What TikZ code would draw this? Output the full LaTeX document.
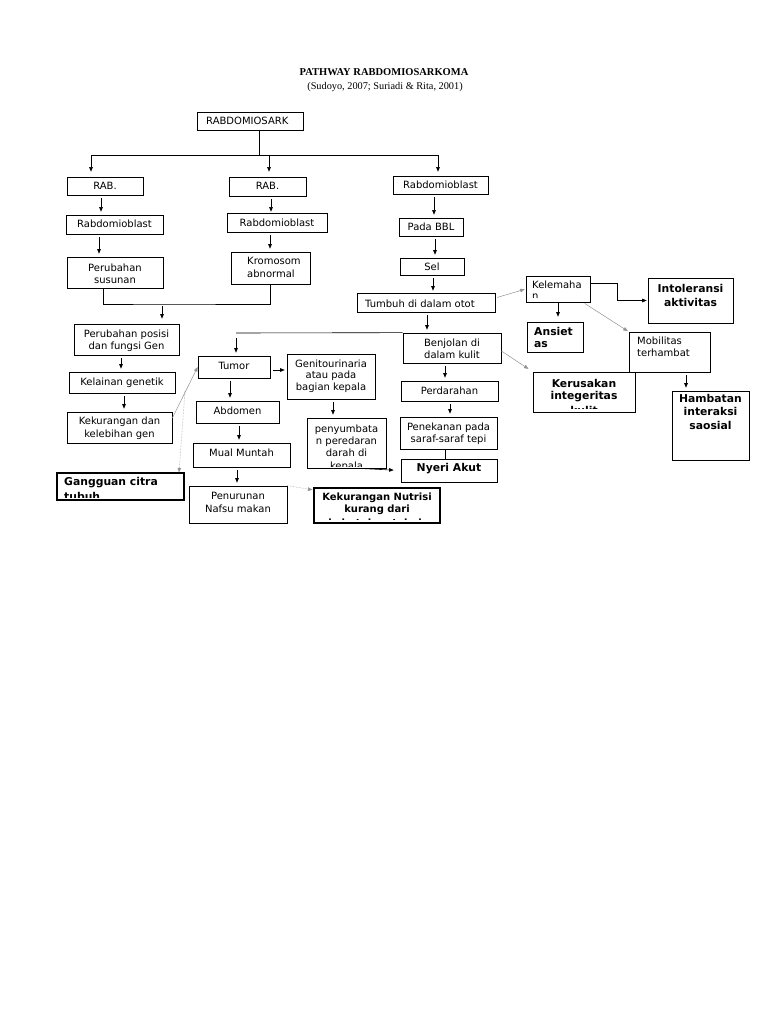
\documentclass[tikz,border=0pt]{standalone}
\usepackage{fontspec}
\setmainfont{Liberation Serif}
\newfontfamily\dv{DejaVu Sans}
\usetikzlibrary{arrows.meta,fit}
\newcommand\nf{\dv\fontsize{10}{12}\selectfont}
\newcommand\bfx{\dv\fontsize{10.8}{13}\selectfont\bfseries}
\newcommand\bfs{\dv\fontsize{10}{12}\selectfont\bfseries}
% box: [style] name, corner, corner
\newcommand\B[4][]{\node[box,#1,fit={#3 #4}] (#2) {};}
% text line, centred on x, baseline y
\newcommand\Tx[5][tx]{\node[#1,anchor=base] (#2) at (#3,#4) {#5};}
% text line, left end at x, baseline y
\newcommand\Tl[5][tx]{\node[#1,anchor=base west] (#2) at (#3,#4) {#5};}
\begin{document}
\begin{tikzpicture}[x=1pt,y=-1pt,
  box/.style={draw=black,line width=0.7pt,inner sep=0pt,rectangle},
  thick box/.style={line width=1.2pt},
  tx/.style={inner sep=0pt,draw=none,font=\nf},
  btx/.style={inner sep=0pt,draw=none,font=\bfx},
  bts/.style={inner sep=0pt,draw=none,font=\bfs},
  ln/.style={line width=0.6pt,draw=black},
  ar/.style={ln,-{Triangle[length=4.5pt,width=3.6pt]}},
  stub/.style={ar,shorten <=3pt,shorten >=3pt},
  gr/.style={line width=0.5pt,draw=gray!85,-{Triangle[length=4.5pt,width=3.6pt]}},
  dt/.style={gr,densely dotted}]
\path[use as bounding box,fill=white] (0,0) rectangle (768,1024);

\node[font=\bfseries\fontsize{10.5}{12}\selectfont,inner sep=0pt] (title) at (384,72.5) {PATHWAY RABDOMIOSARKOMA};
\node[font=\fontsize{10.3}{12}\selectfont,inner sep=0pt] (subtitle) at (385,87.5) {(Sudoyo, 2007; Suriadi \& Rita, 2001)};

% ---------- boxes ----------
\B{root}{(197,112)}{(303,130)}
\B{rabL}{(67,177)}{(143,195)}
\B{rabM}{(229,177)}{(306,196)}
\B{rbR}{(393,176)}{(488,194)}
\B{rbL}{(66,215)}{(163,234)}
\B{rbM}{(227,213)}{(327,232)}
\B{perL}{(67,257)}{(163,288)}
\B{krom}{(231,252)}{(310,284)}
\B{pada}{(399,218)}{(463,236)}
\B{sel}{(400,258)}{(464,275)}
\B{tumbuh}{(357,293)}{(495,312)}
\B{perP}{(74,324)}{(179,355)}
\B{kel}{(69,372)}{(175,393)}
\B{kek}{(67,412)}{(172,443)}
\B{tumor}{(198,356)}{(270,378)}
\B{abd}{(196,401)}{(279,423)}
\B{mual}{(193,443)}{(290,467)}
\B{pen}{(189,486)}{(287,523)}
\B{geni}{(287,354)}{(375,399)}
\B{peny}{(307,418)}{(386,468)}
\B[thick box]{kekN}{(314,488)}{(440,523)}
\B{benj}{(403,333)}{(501,363)}
\B{perd}{(401,381)}{(498,401)}
\B{pene}{(400,417)}{(497,449)}
\B{nyeri}{(401,459)}{(497,482)}
\B{kelem}{(526,276)}{(590,302)}
\B{intol}{(648,278)}{(733,323)}
\B{ans}{(527,322)}{(583,352)}
\B{mob}{(629,332)}{(710,372)}
\B{keru}{(533,372)}{(635,412)}
\B{hamb}{(672,391)}{(749,460)}
\B[thick box]{gang}{(57,473)}{(184,500)}

% ---------- texts ----------
\Tl{rootT}{206}{124.5}{RABDOMIOSARK}
\Tx{rabLT}{105}{190}{RAB.}
\Tx{rabMT}{267.5}{190}{RAB.}
\Tx{rbRT}{440.5}{189}{Rabdomioblast}
\Tx{rbLT}{114.5}{228}{Rabdomioblast}
\Tx{rbMT}{277}{226}{Rabdomioblast}
\Tx{perLT1}{115}{271}{Perubahan}
\Tx{perLT2}{115}{283}{susunan}
\Tl{kromT1}{247}{264}{Kromosom}
\Tl{kromT2}{247}{277}{abnormal}
\Tx{padaT}{431}{231}{Pada BBL}
\Tx{selT}{432}{270}{Sel}
\Tl{tumbuhT}{365}{307.5}{Tumbuh di dalam otot}
\Tx{perPT1}{126.5}{337}{Perubahan posisi}
\Tx{perPT2}{126.5}{349}{dan fungsi Gen}
\Tx{kelT}{122}{385}{Kelainan genetik}
\Tx{kekT1}{119.5}{424}{Kekurangan dan}
\Tx{kekT2}{119.5}{437}{kelebihan gen}
\Tx{tumorT}{234}{369}{Tumor}
\Tx{abdT}{237.5}{414}{Abdomen}
\Tx{mualT}{241.5}{456}{Mual Muntah}
\Tx{penT1}{238}{499}{Penurunan}
\Tx{penT2}{238}{512}{Nafsu makan}
\Tx{geniT1}{331}{367}{Genitourinaria}
\Tx{geniT2}{331}{378.5}{atau pada}
\Tx{geniT3}{331}{390}{bagian kepala}
\begin{scope}
\clip (307,418) rectangle (386,466.5);
\Tx{penyT1}{346.5}{432.5}{penyumbata}
\Tx{penyT2}{346.5}{444.5}{n peredaran}
\Tx{penyT3}{346.5}{456.5}{darah di}
\Tx{penyT4}{346.5}{469}{kepala}
\end{scope}
\begin{scope}
\clip (314,488) rectangle (440,519.5);
\Tx[bts]{kekNT1}{377}{500.5}{Kekurangan Nutrisi}
\Tx[bts]{kekNT2}{377}{512.5}{kurang dari}
\Tx[bts]{kekNT3}{377}{526.5}{kebutuhan tubuh}
\end{scope}
\Tx{benjT1}{452}{346.5}{Benjolan di}
\Tx{benjT2}{452}{358}{dalam kulit}
\Tx{perdT}{449.5}{394}{Perdarahan}
\Tx{peneT1}{448.5}{430}{Penekanan pada}
\Tx{peneT2}{448.5}{442}{saraf-saraf tepi}
\Tx[btx]{nyeriT}{449}{471.5}{Nyeri Akut}
\begin{scope}
\clip (526,276) rectangle (590,297.5);
\Tl{kelemT1}{532}{288}{Kelemaha}
\Tl{kelemT2}{532}{299.5}{n}
\end{scope}
\Tx[btx]{intolT1}{690.5}{292}{Intoleransi}
\Tx[btx]{intolT2}{690.5}{306.5}{aktivitas}
\Tl[btx]{ansT1}{534}{335}{Ansiet}
\Tl[btx]{ansT2}{534}{347}{as}
\Tl{mobT1}{637}{344}{Mobilitas}
\Tl{mobT2}{637}{356.5}{terhambat}
\begin{scope}
\clip (533,372) rectangle (635,408.5);
\Tx[btx]{keruT1}{584}{387}{Kerusakan}
\Tx[btx]{keruT2}{584}{399}{integeritas}
\Tx[btx]{keruT3}{584}{414}{kulit}
\end{scope}
\Tx[btx]{hambT1}{710.5}{402}{Hambatan}
\Tx[btx]{hambT2}{710.5}{415}{interaksi}
\Tx[btx]{hambT3}{710.5}{429}{saosial}
\begin{scope}
\clip (57,473) rectangle (184,497.5);
\Tl[btx]{gangT1}{64}{485.5}{Gangguan citra}
\Tl[btx]{gangT2}{64}{500.5}{tubuh}
\end{scope}

% ---------- connectors ----------
\coordinate (barL) at (91,155);
\coordinate (barM) at (259,155);
\coordinate (barA) at (269,155);
\coordinate (barR) at (438,155);
\draw[ln] (root.south -| barM) -- (barM);
\draw[ln] (barL) -- (barR);
\draw[ar,shorten >=5pt] (barL) -- (barL |- rabL.north);
\draw[ar,shorten >=5pt] (barA) -- (barA |- rabM.north);
\draw[ar,shorten >=4pt] (barR) -- (barR |- rbR.north);

\draw[stub] (rabL.south -| 101,0) -- (rbL.north -| 101,0);
\draw[stub] (rbL.south -| 99,0) -- (perL.north -| 99,0);
\draw[stub,shorten >=1pt] (rabM.south -| 271,0) -- (rbM.north -| 271,0);
\draw[stub] (rbM.south -| 270,0) -- (krom.north -| 270,0);
\coordinate (jn) at (162,304);
\draw[ln] (perL.south -| 103,0) |- (jn) -| (krom.south -| 270,0);
\draw[ar,shorten <=2pt,shorten >=5pt] (jn) -- (jn |- perP.north);
\draw[stub] (perP.south -| 121,0) -- (kel.north -| 121,0);
\draw[stub] (kel.south -| 124,0) -- (kek.north -| 124,0);
\draw[gr] (kek.east |- 0,418) -- (tumor.west);
\coordinate (ds) at (185,391);
\draw[dt] (ds) -- (gang.north -| 179,0);

\coordinate (tl) at (236,333);
\draw[ln] (benj.north west) -- (tl);
\draw[ar,shorten <=5pt,shorten >=3pt] (tl) -- (tl |- tumor.north);
\draw[stub] (tumbuh.south -| 427,0) -- (benj.north -| 427,0);
\draw[stub] (tumor.south -| 230,0) -- (abd.north -| 230,0);
\draw[stub] (abd.south -| 239,0) -- (mual.north -| 239,0);
\draw[stub] (mual.south -| 237,0) -- (pen.north -| 237,0);
\draw[ar,shorten <=3pt,shorten >=2pt] (tumor.east |- 0,370) -- (geni.west |- 0,370);
\draw[stub] (geni.south -| 333,0) -- (peny.north -| 333,0);
\draw[ar,shorten >=7pt] (peny.south -| 358,0) -- (nyeri.west);
\draw[dt,shorten >=1pt] (pen.north east) -- (kekN.west |- 0,490);

\draw[stub] (benj.south -| 445,0) -- (perd.north -| 445,0);
\draw[stub] (perd.south -| 450,0) -- (pene.north -| 450,0);
\draw[ln] (pene.south -| 445,0) -- (nyeri.north -| 445,0);

\draw[stub] (rbR.south -| 434,0) -- (pada.north -| 434,0);
\draw[stub] (pada.south -| 435,0) -- (sel.north -| 435,0);
\draw[stub,shorten >=2pt] (sel.south -| 433,0) -- (tumbuh.north -| 433,0);
\draw[gr,shorten <=2pt,shorten >=1pt] (tumbuh.east |- 0,298) -- (kelem.west);
\draw[ar,shorten >=1pt] (kelem.east |- 0,283) -| ([xshift=-30pt]intol.west) -- (intol.west);
\draw[ar,shorten <=1pt,shorten >=5pt] (kelem.south -| 558,0) -- (ans.north -| 558,0);
\draw[gr,shorten <=2pt,shorten >=1pt] (kelem.south -| 583,0) -- (mob.north west);
\draw[stub] (mob.south -| 686,0) -- (hamb.north -| 686,0);
\draw[gr,shorten >=5pt] (benj.east |- 0,351) -- (keru.north west);
\end{tikzpicture}
\end{document}
